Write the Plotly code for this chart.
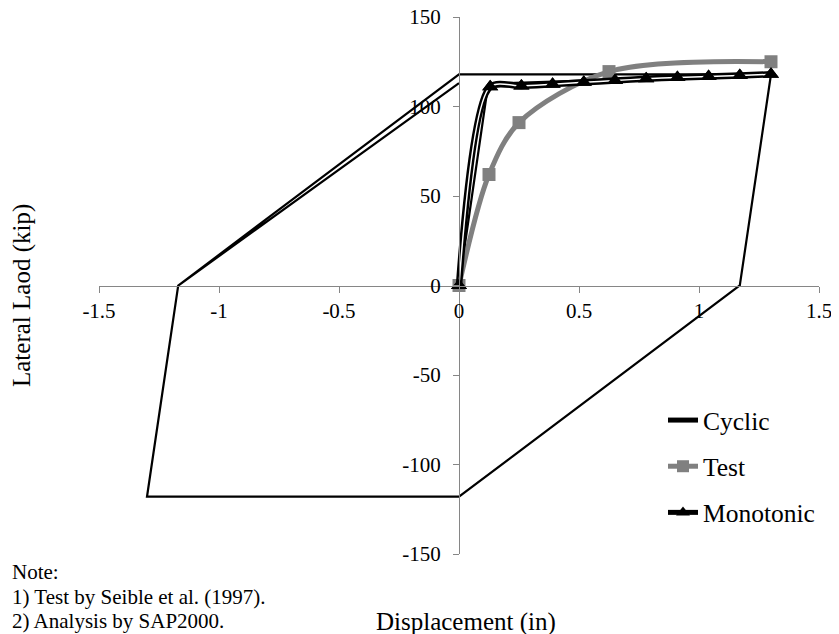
import plotly.graph_objects as go

# ---------------- data ----------------
cyclic_x = [0, 0.12, 0.2, 1.3, 1.17, 0, -1.3, -1.17, 0, 1.3, 1.17, 0, -1.3, -1.17, 0]
cyclic_y = [0, 111, 113, 118, 0, -118, -118, 0, 118, 118, 0, -118, -118, 0, 113]

test_x = [0, 0.125, 0.25, 0.625, 1.3]
test_y = [0, 62, 91, 119.5, 125]

mono_x = [0, 0.13, 0.26, 0.39, 0.52, 0.65, 0.78, 0.91, 1.04, 1.17, 1.30]
mono_y = [0, 111, 111.5, 112.5, 113.5, 114.5, 115.5, 116.2, 116.8, 117.3, 118]

x_ticks = [-1.5, -1, -0.5, 0, 0.5, 1, 1.5]
x_tick_labels = ["-1.5", "-1", "-0.5", "0", "0.5", "1", "1.5"]
y_ticks = [-150, -100, -50, 0, 50, 100, 150]
y_tick_labels = ["-150", "-100", "-50", "0", "50", "100", "150"]

x_title = "Displacement (in)"
y_title = "Lateral Laod (kip)"
note_lines = ["Note:", "1) Test by Seible et al. (1997).", "2) Analysis by SAP2000."]

# ---------------- layout constants ----------------
# the page body adds an 8px offset; size the figure so it exactly fills the window
OFF = 8
W, H = 839 - OFF, 634 - OFF
L, T = 91, 9
PW, PH = 720, 537
R, B = W - L - PW, H - T - PH
FONT = "Liberation Serif, Times New Roman, serif"
AXC = "#868686"


def px_to_paper(px, py):
    """screen pixel (reference coords) -> paper fraction"""
    fx, fy = px - OFF, py - OFF
    return (fx - L) / PW, (T + PH - fy) / PH


fig = go.Figure()

fig.add_trace(go.Scatter(
    x=cyclic_x, y=cyclic_y, mode="lines", name="Cyclic",
    line=dict(color="black", width=2.2), legendgroup="a", legendrank=1,
))
fig.add_trace(go.Scatter(
    x=test_x, y=test_y, mode="lines+markers", name="Test",
    line=dict(color="#808080", width=5, shape="spline", smoothing=0.9),
    marker=dict(symbol="square", size=13, color="#808080"),
    legendgroup="b", legendrank=2,
))
fig.add_trace(go.Scatter(
    x=mono_x, y=mono_y, mode="lines+markers", name="Monotonic",
    line=dict(color="black", width=6.5, shape="spline", smoothing=0.8),
    marker=dict(symbol="triangle-up", size=14, color="black"),
    legendgroup="c", legendrank=3,
))
fig.add_trace(go.Scatter(
    x=mono_x, y=mono_y, mode="lines", showlegend=False, hoverinfo="skip",
    line=dict(color="white", width=1.5, shape="spline", smoothing=0.8),
))
fig.add_trace(go.Scatter(
    x=mono_x, y=mono_y, mode="markers", showlegend=False, hoverinfo="skip",
    marker=dict(symbol="triangle-up", size=14, color="black"),
))

axis_common = dict(
    showgrid=False, zeroline=False, showline=True, linecolor=AXC, linewidth=1.3,
    ticks="outside", ticklen=6, tickcolor=AXC, tickwidth=1.3,
    tickfont=dict(family=FONT, size=21, color="black"),
    anchor="free", position=0.5, automargin=False, ticklabeloverflow="allow",
)

fig.update_xaxes(range=[-1.5, 1.5], tickvals=x_ticks, ticktext=x_tick_labels, **axis_common)
fig.update_yaxes(range=[-150, 150], tickvals=y_ticks, ticktext=y_tick_labels,
                 ticklabelstandoff=8, **axis_common)

annotations = []
ax, ay = px_to_paper(466, 622)
annotations.append(dict(x=ax, y=ay, xref="paper", yref="paper", text=x_title,
                        showarrow=False, font=dict(family=FONT, size=25, color="black"),
                        xanchor="center", yanchor="middle"))
ax, ay = px_to_paper(22, 296)
annotations.append(dict(x=ax, y=ay, xref="paper", yref="paper", text=y_title, textangle=-90,
                        showarrow=False, font=dict(family=FONT, size=25, color="black"),
                        xanchor="center", yanchor="middle"))
for i, line in enumerate(note_lines):
    ax, ay = px_to_paper(10, 572 + 24.5 * i)
    annotations.append(dict(x=ax, y=ay, xref="paper", yref="paper", text=line,
                            showarrow=False, font=dict(family=FONT, size=21, color="black"),
                            xanchor="left", yanchor="middle"))

lx, ly = px_to_paper(663, 397)
fig.update_layout(
    width=W, height=H,
    margin=dict(l=L, r=R, t=T, b=B, autoexpand=False),
    paper_bgcolor="white", plot_bgcolor="white",
    annotations=annotations,
    showlegend=True,
    legend=dict(x=lx, y=ly, xanchor="left", yanchor="top",
                font=dict(family=FONT, size=25.5, color="black"),
                bgcolor="rgba(0,0,0,0)", tracegroupgap=10,
                traceorder="grouped", itemsizing="constant"),
)

fig.write_html("out.html")
